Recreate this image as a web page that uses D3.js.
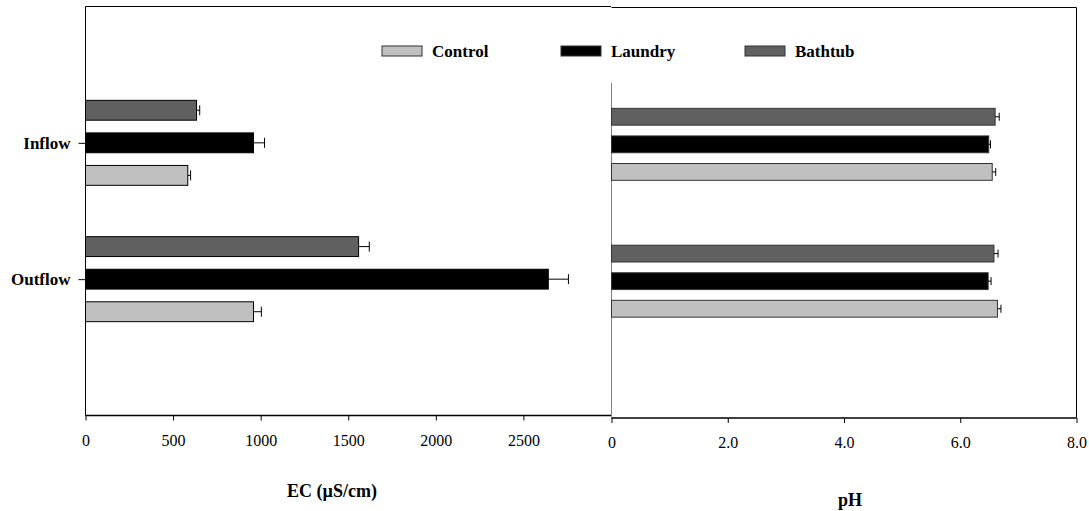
<!DOCTYPE html>
<html>
<head>
<meta charset="utf-8">
<script src="https://cdn.jsdelivr.net/npm/d3@7"></script>
<style>
	body { margin: 0; background: #fff; }
	svg text { font-family: 'Liberation Serif', 'Times New Roman', serif; fill: #000; }
</style>
</head>
<body>
<svg width="1089" height="511"></svg>
<script>
var categories = ['Inflow', 'Outflow'];
var seriesNames = ['Bathtub', 'Laundry', 'Control'];
var legendNames = ['Control', 'Laundry', 'Bathtub'];

// EC values (uS/cm) and std errors, per category, order as seriesNames
var ecBathtub = [634, 1559];
var ecLaundry = [959, 2642];
var ecControl = [584, 959];
var ecBathtubErr = [18, 61];
var ecLaundryErr = [63, 115];
var ecControlErr = [16, 45];

// pH values and errors
var phBathtub = [6.60, 6.58];
var phLaundry = [6.49, 6.48];
var phControl = [6.55, 6.64];
var phBathtubErr = [0.07, 0.07];
var phLaundryErr = [0.03, 0.05];
var phControlErr = [0.06, 0.06];

var ecTicks = [0, 500, 1000, 1500, 2000, 2500];
var phTicks = [0, 2, 4, 6, 8];
var phTickLabels = ['0', '2.0', '4.0', '6.0', '8.0'];

var colors = { Control: '#c0c0c0', Laundry: '#000000', Bathtub: '#606060' };
var serif = "'Liberation Serif', 'Times New Roman', serif";

function buildRows(b, l, c, be, le, ce) {
	var rows = [];
	categories.forEach(function(cat, i) {
		rows.push({ cat: cat, s: 'Bathtub', v: b[i], e: be[i] });
		rows.push({ cat: cat, s: 'Laundry', v: l[i], e: le[i] });
		rows.push({ cat: cat, s: 'Control', v: c[i], e: ce[i] });
	});
	return rows;
}

var ecData = buildRows(ecBathtub, ecLaundry, ecControl, ecBathtubErr, ecLaundryErr, ecControlErr);
var phData = buildRows(phBathtub, phLaundry, phControl, phBathtubErr, phLaundryErr, phControlErr);

var svg = d3.select('svg');

function drawPanel(opts) {
	var x = d3.scaleLinear().domain(opts.domain).range([opts.left, opts.right]);
	var y = d3.scalePoint().domain(categories).range([opts.top, opts.bottom]).padding(1);
	var inner = d3.scaleBand().domain(seriesNames)
		.range([-opts.half, opts.half]).paddingInner(0.39).paddingOuter(0.2);

	var g = svg.append('g');

	// frame
	g.append('line')
		.attr('x1', opts.left).attr('x2', opts.right)
		.attr('y1', opts.top).attr('y2', opts.top)
		.attr('stroke', '#000');
	g.append('line')
		.attr('x1', opts.left).attr('x2', opts.right)
		.attr('y1', opts.bottom).attr('y2', opts.bottom)
		.attr('stroke', '#000').attr('stroke-width', 1.3);
	g.append('line')
		.attr('x1', opts.left).attr('x2', opts.left)
		.attr('y1', opts.axisTop).attr('y2', opts.bottom)
		.attr('stroke', opts.axisColor);
	if (opts.rightBorder) {
		g.append('line')
			.attr('x1', opts.right).attr('x2', opts.right)
			.attr('y1', opts.top).attr('y2', opts.bottom)
			.attr('stroke', '#000');
	}

	// bottom axis
	var ax = g.append('g')
		.attr('transform', 'translate(0,' + opts.bottom + ')')
		.call(d3.axisBottom(x).tickValues(opts.ticks).tickSize(5).tickPadding(14)
			.tickFormat(function(d, i) { return opts.tickLabels[i]; }));
	ax.select('.domain').remove();
	ax.attr('font-family', serif);
	ax.selectAll('text').attr('font-size', 16).attr('font-family', serif);

	// category axis
	if (opts.catLabels) {
		var ay = g.append('g')
			.attr('transform', 'translate(' + opts.left + ',0)')
			.call(d3.axisLeft(y).tickSize(7).tickPadding(8));
		ay.select('.domain').remove();
		ay.attr('font-family', serif);
		ay.selectAll('text').attr('font-size', 17).attr('font-weight', 'bold')
			.attr('font-family', serif);
	}

	// bars
	g.selectAll('.bar')
		.data(opts.data)
		.enter().append('rect')
		.attr('class', 'bar')
		.attr('x', x(0))
		.attr('y', function(d) { return y(d.cat) + inner(d.s); })
		.attr('width', function(d) { return x(d.v) - x(0); })
		.attr('height', inner.bandwidth())
		.attr('fill', function(d) { return colors[d.s]; })
		.attr('stroke', opts.barStroke)
		.attr('stroke-width', 1);

	// error bars
	var eb = g.selectAll('.err')
		.data(opts.data)
		.enter().append('g')
		.attr('class', 'err');
	eb.append('line')
		.attr('x1', function(d) { return x(d.v); })
		.attr('x2', function(d) { return x(d.v + d.e); })
		.attr('y1', function(d) { return y(d.cat) + inner(d.s) + inner.bandwidth() / 2; })
		.attr('y2', function(d) { return y(d.cat) + inner(d.s) + inner.bandwidth() / 2; })
		.attr('stroke', '#000');
	eb.append('line')
		.attr('x1', function(d) { return x(d.v + d.e); })
		.attr('x2', function(d) { return x(d.v + d.e); })
		.attr('y1', function(d) { return y(d.cat) + inner(d.s) + inner.bandwidth() / 2 - opts.cap; })
		.attr('y2', function(d) { return y(d.cat) + inner(d.s) + inner.bandwidth() / 2 + opts.cap; })
		.attr('stroke', '#000');

	// axis title
	g.append('text')
		.attr('x', opts.titleX)
		.attr('y', opts.titleY)
		.attr('text-anchor', 'middle')
		.attr('font-size', 18)
		.attr('font-weight', 'bold')
		.attr('font-family', serif)
		.text(opts.title);
}

drawPanel({
	data: ecData, domain: [0, 3000], left: 85.5, right: 611, top: 6.5, bottom: 415.5,
	axisTop: 6.5, axisColor: '#000', half: 49, cap: 5, barStroke: '#000',
	ticks: ecTicks, tickLabels: ecTicks.map(String), catLabels: true, rightBorder: false,
	title: 'EC (\u00b5S/cm)', titleX: 332, titleY: 497
});

drawPanel({
	data: phData, domain: [0, 8], left: 611.5, right: 1076.5, top: 7.5, bottom: 418,
	axisTop: 83, axisColor: '#808080', half: 41.5, cap: 4, barStroke: '#333',
	ticks: phTicks, tickLabels: phTickLabels, catLabels: false, rightBorder: true,
	title: 'pH', titleX: 850, titleY: 506
});

// legend
var legendX = [382, 561, 745];
var legend = svg.append('g').selectAll('g')
	.data(legendNames)
	.enter().append('g')
	.attr('transform', function(d, i) { return 'translate(' + legendX[i] + ',46)'; });
legend.append('rect')
	.attr('width', 40).attr('height', 10)
	.attr('fill', function(d) { return colors[d]; })
	.attr('stroke', '#333');
legend.append('text')
	.attr('x', 50).attr('y', 11)
	.attr('font-size', 17).attr('font-weight', 'bold')
	.attr('font-family', serif)
	.text(function(d) { return d; });
</script>
</body>
</html>
